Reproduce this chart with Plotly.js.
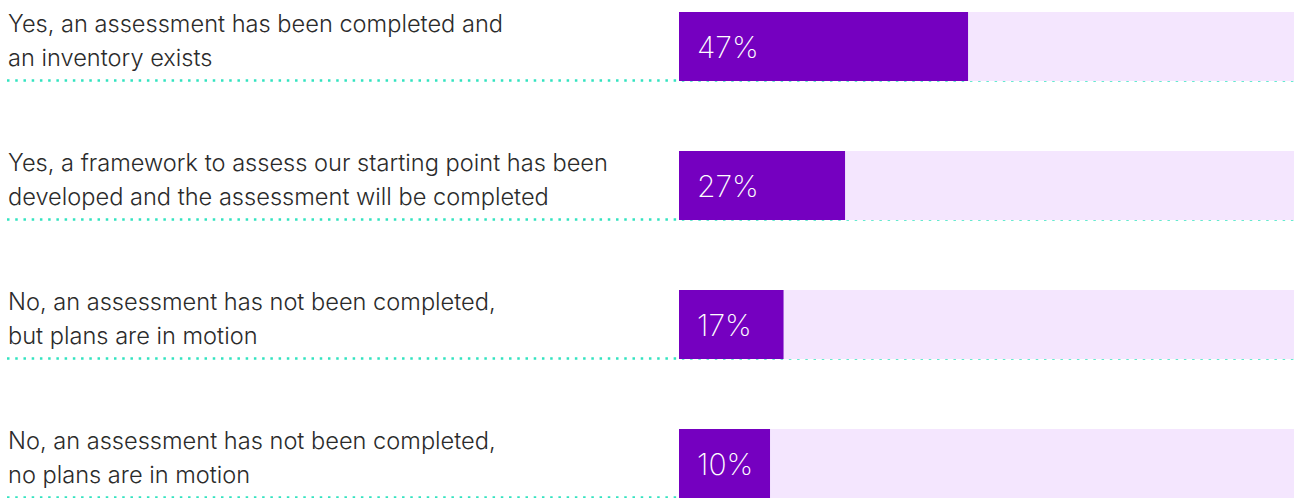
<!DOCTYPE html>
<html>
<head>
<meta charset="utf-8">
<script src="https://cdn.plot.ly/plotly-3.0.1.min.js"></script>
<style>
  html, body { margin: 0; padding: 0; background: #ffffff; }
  #chart { width: 1297px; height: 498px; }
</style>
</head>
<body>
<div id="chart"></div>
<script>
// ---- data ----
const categories = [
  "Yes, an assessment has been completed and<br>an inventory exists",
  "Yes, a framework to assess our starting point has been<br>developed and the assessment will be completed",
  "No, an assessment has not been completed,<br>but plans are in motion",
  "No, an assessment has not been completed,<br>no plans are in motion"
];
const values = [47, 27, 17, 10];
const valueLabels = ["47%", "27%", "17%", "10%"];

// ---- style ----
const PURPLE = "#7500C0";
const LAVENDER = "#F4E6FE";
const DOT = "#33E3C0";
const TEXT = "#2b2b2b";
const FONT = "Inter, 'Open Sans', sans-serif";
const MIN_BAR = 14.8;        // design: shortest bar still holds its label
const BAR_W = 0.496;
const LEFT = 679, RIGHT = 3, PLOT_W = 1297 - LEFT - RIGHT;
const LABEL_X = (8 - LEFT) / PLOT_W;
const DOTLINE_X = (7 - LEFT) / PLOT_W;
const rowPx = 139, firstCenter = 46.5, H = 498;
const DOT_OFF = (80.5 - firstCenter) / rowPx;

const idx = categories.map((_, i) => i);

const shapes = [];
const annotations = [];
idx.forEach(i => {
  shapes.push({
    type: "rect", layer: "below", xref: "x", yref: "y",
    x0: 0, x1: 100, y0: i - BAR_W / 2, y1: i + BAR_W / 2,
    fillcolor: LAVENDER, line: { width: 0 }
  });
  shapes.push({
    type: "line", layer: "below", xref: "paper", yref: "y",
    x0: DOTLINE_X, x1: 1.004, y0: i + DOT_OFF, y1: i + DOT_OFF,
    line: { color: DOT, width: 2.5, dash: "2.5px,5.73px" }
  });
  const lines = categories[i].split("<br>");
  lines.forEach((ln, k) => {
    annotations.push({
      xref: "paper", yref: "y", x: LABEL_X, y: i,
      xanchor: "left", yanchor: "middle", showarrow: false,
      text: ln, align: "left", borderpad: 0, borderwidth: 0,
      yshift: k === 0 ? 23 : -11,
      font: { family: FONT, size: 23.6, color: TEXT, weight: 300 }
    });
  });
  annotations.push({
    xref: "x", yref: "y", x: 0, y: i, xshift: 17,
    xanchor: "left", yanchor: "middle", showarrow: false,
    text: valueLabels[i], borderpad: 0,
    font: { family: FONT, size: 30, color: "#ffffff", weight: 200 }
  });
});

const trace = {
  type: "bar", orientation: "h",
  y: idx, x: values.map(v => Math.max(v, MIN_BAR)),
  width: BAR_W,
  marker: { color: PURPLE, line: { width: 0 } },
  hoverinfo: "skip"
};

const layout = {
  width: 1297, height: 498,
  margin: { l: LEFT, r: RIGHT, t: 0, b: 0, pad: 0 },
  paper_bgcolor: "#ffffff", plot_bgcolor: "rgba(0,0,0,0)",
  showlegend: false,
  xaxis: { range: [0, 100], visible: false, fixedrange: true },
  yaxis: {
    range: [(H - firstCenter) / rowPx, -firstCenter / rowPx],
    visible: false, fixedrange: true
  },
  shapes: shapes,
  annotations: annotations
};

Plotly.newPlot("chart", [trace], layout, { displayModeBar: false, staticPlot: true });
</script>
</body>
</html>
